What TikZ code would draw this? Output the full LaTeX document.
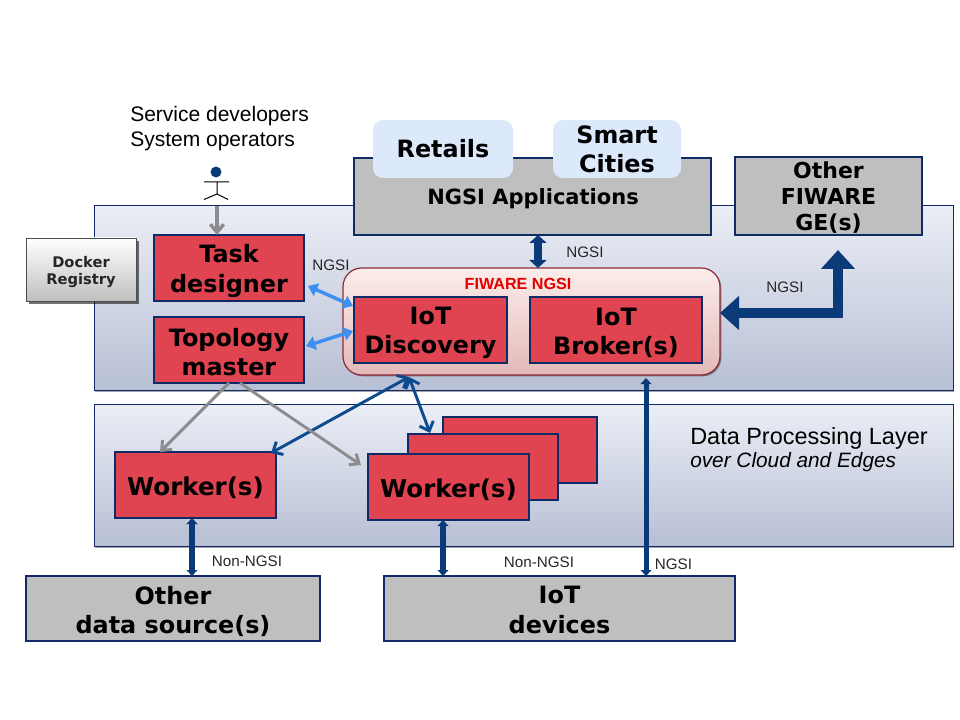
\documentclass[tikz,border=0pt]{standalone}
\usepackage{fontspec}
\setmainfont{Liberation Sans}
\newfontfamily\vb{DejaVu Sans}
\usetikzlibrary{arrows.meta,calc,shadows,shapes.misc}
\definecolor{navy}{HTML}{0F2A66}
\definecolor{arrowblue}{HTML}{0A3A78}
\definecolor{midblue}{HTML}{0E4A8E}
\definecolor{lightblue}{HTML}{3F8FF0}
\definecolor{redbox}{HTML}{DF4450}
\definecolor{graybox}{HTML}{BFBFBF}
\definecolor{arrowgray}{HTML}{8C8C8C}
\definecolor{panelTop}{HTML}{EBEEF6}
\definecolor{panelBot}{HTML}{B7BFD4}
\definecolor{bubblecol}{HTML}{DCE9FB}
\definecolor{fiwaTop}{HTML}{FBEDEA}
\definecolor{fiwaBot}{HTML}{E3B9B9}
\definecolor{fiwaLine}{HTML}{8E2A3A}
\newcommand\lowertext[1][1.01em]{\rule{0pt}{#1}}
\tikzset{
  x=0.75pt,y=-0.75pt,
  panel/.style={draw=navy,line width=0.75pt,top color=panelTop,bottom color=panelBot,
     drop shadow={shadow xshift=1pt,shadow yshift=-1pt,opacity=.35,fill=black},
     inner sep=0pt,outer sep=0pt,anchor=north west},
  box/.style={draw=navy,line width=1.4pt,inner sep=0pt,outer sep=0pt,align=center,anchor=north west,
     font=\vb\bfseries\fontsize{17.9pt}{22pt}\selectfont,text=black},
  redb/.style={box,fill=redbox},
  grayb/.style={box,fill=graybox},
  bubble/.style={draw=none,fill=bubblecol,rounded corners=7.5pt,inner sep=0pt,outer sep=0pt,align=center,anchor=north west,
     font=\vb\bfseries\fontsize{17.9pt}{22pt}\selectfont},
  lbl/.style={font=\fontsize{11.4pt}{13pt}\selectfont,text=black!85,inner sep=0pt,outer sep=0pt},
  thickdbl/.style={draw=arrowblue,line width=#1,{Triangle[length=6pt,width=12.75pt]}-{Triangle[length=6pt,width=12.75pt]}},
  thindbl/.style={draw=arrowblue,line width=#1,{Triangle[length=4.5pt,width=8pt]}-{Triangle[length=4.5pt,width=8pt]}},
  barbdbl/.style={draw=#1,line width=2.6pt,{Triangle[length=7pt,width=10pt]}-{Triangle[length=7pt,width=10pt]}},
  bluedbl/.style={draw=midblue,line width=2.2pt,{Straight Barb[length=6pt,width=11pt]}-{Straight Barb[length=6pt,width=11pt]}},
  grayarr/.style={draw=arrowgray,line width=2.2pt,-{Straight Barb[length=6pt,width=10pt]}},
}
\begin{document}
\begin{tikzpicture}
\useasboundingbox (0,0) rectangle (960,720);
% panels
\node[panel,minimum width=644.25pt,minimum height=138.75pt] (upper) at (94,205.5) {};
\node[panel,minimum width=644.25pt,minimum height=106.5pt] (lower) at (94,404.5) {};
% docker
\node[draw=black!70,line width=.6pt,top color=white,bottom color=black!25,
  drop shadow={shadow xshift=2pt,shadow yshift=-2pt,opacity=.55,fill=black},
  minimum width=82.5pt,minimum height=47.25pt,inner sep=0pt,outer sep=0pt,anchor=north west,align=center,
  font=\vb\bfseries\fontsize{11pt}{12.75pt}\selectfont,text=black!85] (docker) at (26,238) {\lowertext[1.1em]Docker\\Registry};
% top apps
\node[grayb,minimum width=267.75pt,minimum height=57.75pt] (apps) at (354,158) {};
\node[font=\vb\bfseries\fontsize{15.75pt}{18pt}\selectfont,inner sep=0pt] (appsl) at (533,198.5) {NGSI Applications};
\node[bubble,minimum width=105pt,minimum height=43.5pt] (retails) at (373,120) {Retails};
\node[bubble,minimum width=96pt,minimum height=43.5pt] (smart) at (553,120) {Smart\\[-0.5pt]Cities};
\node[grayb,minimum width=140.25pt,minimum height=58.5pt,font=\vb\bfseries\fontsize{16.5pt}{19.5pt}\selectfont] (other) at (735,157) {\lowertext[.94em]Other\\FIWARE\\GE(s)};
% fiware
\node[draw=fiwaLine,line width=.9pt,top color=fiwaTop,bottom color=fiwaBot,rounded corners=14pt,
  drop shadow={shadow xshift=1pt,shadow yshift=-1pt,opacity=.4,fill=black},
  minimum width=282.75pt,minimum height=80.25pt,inner sep=0pt,outer sep=0pt,anchor=north west] (fiware) at (343,268) {};
\node[font=\bfseries\fontsize{12.1pt}{14pt}\selectfont,text=red!90!black,inner sep=0pt] (fiwarel) at (518,283.5) {FIWARE NGSI};
\node[redb,minimum width=114.75pt,minimum height=49.5pt] (disc) at (354,297) {\lowertext[.95em]IoT\\Discovery};
\node[redb,minimum width=129pt,minimum height=49.5pt] (broker) at (530,297) {\lowertext[.95em]IoT\\Broker(s)};
% left
\node[redb,minimum width=112.5pt,minimum height=49.5pt] (task) at (154,235) {\lowertext Task\\designer};
\node[redb,minimum width=112.5pt,minimum height=49.5pt] (topo) at (154,317) {\lowertext[.95em]Topology\\master};
% workers
\node[redb,minimum width=115.5pt,minimum height=49.5pt] (wback) at (443,417) {};
\node[redb,minimum width=112.5pt,minimum height=49.5pt] (wmid) at (408,434) {};
\node[redb,minimum width=120.75pt,minimum height=49.5pt,font=\vb\bfseries\fontsize{18.4pt}{22pt}\selectfont] (wfront) at (368,454) {\lowertext[1em]Worker(s)};
\node[redb,minimum width=120.75pt,minimum height=49.5pt,font=\vb\bfseries\fontsize{18.4pt}{22pt}\selectfont] (wone) at (115,452) {\lowertext[1em]Worker(s)};
% bottom
\node[grayb,minimum width=220.5pt,minimum height=48.75pt] (datasrc) at (26,576) {\lowertext Other\\data source(s)};
\node[grayb,minimum width=263.25pt,minimum height=48.75pt] (devices) at (384,576) {\lowertext[.84em]IoT\\devices};
% actor
\fill[arrowblue] (216,172) circle (4.1pt);
\coordinate (actor) at (217,206);
\draw[black,line width=.75pt] (204,182) -- (229,182) (217,182) -- (217,194) -- (204,199.5) (217,194) -- (228,199.5);
% text
\node[anchor=north west,font=\fontsize{15.75pt}{18.75pt}\selectfont,align=left,inner sep=0pt] (devs) at (130,106) {Service developers\\System operators};
\node[anchor=north west,font=\fontsize{17.6pt}{20pt}\selectfont,inner sep=0pt] (layer) at (690,427) {Data Processing Layer};
\node[anchor=north west,font=\itshape\fontsize{15.6pt}{18pt}\selectfont,inner sep=0pt] (over) at (690,452) {over Cloud and Edges};
\node[lbl] (l1) at (331,265.5) {NGSI};
\node[lbl] (l2) at (585,252.5) {NGSI};
\node[lbl] (l3) at (785,287.5) {NGSI};
\node[lbl] (l4) at (247,561.5) {Non-NGSI};
\node[lbl] (l5) at (539,562.5) {Non-NGSI};
\node[lbl] (l6) at (673.5,564) {NGSI};
% connectors
\draw[grayarr,line width=2.6pt] (actor) -- ($(task.north west)+(63,0)$);
\draw[thickdbl=5.5pt] ($(apps.south west)+(184,0)$) -- ($(fiware.north west)+(195,0)$);
\draw[draw=arrowblue,line width=7.5pt,{Triangle[length=14.25pt,width=24.75pt]}-{Triangle[length=14.25pt,width=24.75pt]}]
  ($(fiware.north east)+(0,45)$) -| ($(other.south west)+(103,15)$);
\draw[barbdbl=lightblue] ($(task.south east)+(4,-15)$) -- ($(disc.north west)+(-1,9)$);
\draw[barbdbl=lightblue] ($(topo.north east)+(2,29)$) -- ($(disc.north west)+(-1,34)$);
\draw[bluedbl] ($(fiware.south west)+(66,2)$) -- ($(wone.north east)+(-5,1)$);
\draw[bluedbl] ($(fiware.south west)+(66,2)$) -- ($(wmid.north west)+(22,-1)$);
\draw[grayarr] ($(topo.south west)+(75,0)$) -- ($(wone.north west)+(45,0)$);
\draw[grayarr] ($(topo.south west)+(86,0)$) -- ($(wfront.north west)+(-7,11)$);
\draw[thindbl=4.2pt] ($(wone.south west)+(77,0)$) -- ($(datasrc.north west)+(166,0)$);
\draw[thindbl=4.2pt] ($(wfront.south west)+(75,0)$) -- ($(devices.north west)+(59,0)$);
\draw[thindbl=3.75pt] ($(fiware.south west)+(303,3)$) -- ($(devices.north west)+(262,0)$);
\end{tikzpicture}
\end{document}
